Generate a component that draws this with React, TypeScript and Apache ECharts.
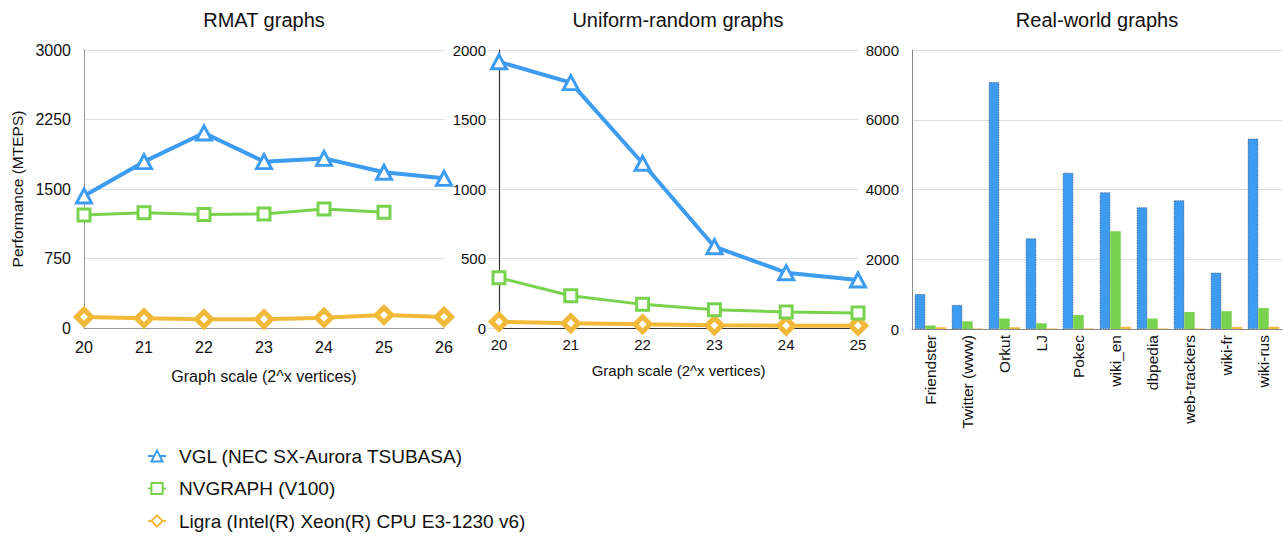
import React, { useEffect, useRef } from 'react';
import * as echarts from 'echarts';

const seriesNames = [
  'VGL (NEC SX-Aurora TSUBASA)',
  'NVGRAPH (V100)',
  'Ligra (Intel(R) Xeon(R) CPU E3-1230 v6)',
];
const panelTitles = ['RMAT graphs', 'Uniform-random graphs', 'Real-world graphs'];
const xAxisTitle = 'Graph scale (2^x vertices)';
const yAxisTitle = 'Performance (MTEPS)';

const rmatScales = ['20', '21', '22', '23', '24', '25', '26'];
const rmatVGL = [1425, 1795, 2105, 1795, 1830, 1680, 1615];
const rmatNV = [1220, 1245, 1225, 1230, 1285, 1250, null];
const rmatLigra = [120, 105, 95, 95, 110, 140, 120];

const uniScales = ['20', '21', '22', '23', '24', '25'];
const uniVGL = [1915, 1765, 1185, 585, 398, 345];
const uniNV = [362, 232, 170, 132, 115, 108];
const uniLigra = [45, 34, 27, 19, 17, 17];

const realGraphs = ['Friendster', 'Twitter (www)', 'Orkut', 'LJ', 'Pokec', 'wiki_en', 'dbpedia', 'web-trackers', 'wiki-fr', 'wiki-rus'];
const realVGL = [1000, 690, 7080, 2600, 4480, 3920, 3490, 3690, 1615, 5460];
const realNV = [100, 220, 300, 165, 400, 2800, 300, 490, 510, 600];
const realLigra = [50, 15, 50, 15, 15, 65, 15, 15, 60, 65];

const yMax = [3000, 2000, 8000];
const yStep = [750, 500, 2000];

const BLUE = '#3d9cf0';
const GREEN = '#78d24e';
const YELLOW = '#f1b93a';
const FONT = '"Liberation Sans", Arial, Helvetica, sans-serif';
const TXT = '#111';

const plain = (v: number) => String(v);

export default function App() {
  const ref = useRef<HTMLDivElement>(null);

  useEffect(() => {
    if (!ref.current) return;
    const chart = echarts.init(ref.current, undefined, { renderer: 'svg' });

    const grids = [
      { left: 84, top: 50, width: 360, height: 278 },
      { left: 499, top: 50, width: 359, height: 278 },
      { left: 912, top: 50, width: 370, height: 279 },
    ];

    const lineSeries = (name: string, data: any[], xi: number, kind: number) => {
      const color = [BLUE, GREEN, YELLOW][kind];
      const symbol = ['triangle', 'rect', 'diamond'][kind];
      const size = [[15, 14], 12, 15][kind];
      const bw = [3, 3, 5][kind];
      const lw = [4, 3, 4][kind];
      return {
        type: 'line',
        name,
        xAxisIndex: xi,
        yAxisIndex: xi,
        data,
        symbol,
        symbolSize: size,
        showAllSymbol: true,
        connectNulls: false,
        lineStyle: { color, width: lw },
        itemStyle: { color: '#fff', borderColor: color, borderWidth: bw },
        z: 3 - kind + 2,
      };
    };

    const barSeries = (name: string, data: number[], color: string, border: boolean) => ({
      type: 'bar',
      name,
      xAxisIndex: 2,
      yAxisIndex: 2,
      data,
      barGap: '0%',
      barCategoryGap: '15%',
      itemStyle: border
        ? { color, borderColor: 'rgba(25,60,105,0.75)', borderWidth: 0.8, borderType: [1.5, 1] }
        : { color },
    });

    const option: any = {
      animation: false,
      textStyle: { fontFamily: FONT, color: TXT },
      grid: grids,
      legend: {
        orient: 'vertical',
        left: 147,
        top: 445,
        padding: 0,
        itemWidth: 18,
        itemHeight: 14,
        itemGap: 10.5,
        selectedMode: false,
        data: seriesNames,
        textStyle: { fontSize: 19, lineHeight: 22, color: TXT, fontFamily: FONT, padding: [0, 0, 0, 8] },
      },
      graphic: [
        { type: 'text', x: 264, y: 20, style: { text: panelTitles[0], fontSize: 20, fontFamily: FONT, fill: TXT, align: 'center', verticalAlign: 'middle' } },
        { type: 'text', x: 678, y: 20, style: { text: panelTitles[1], fontSize: 20, fontFamily: FONT, fill: TXT, align: 'center', verticalAlign: 'middle' } },
        { type: 'text', x: 1097, y: 20, style: { text: panelTitles[2], fontSize: 20, fontFamily: FONT, fill: TXT, align: 'center', verticalAlign: 'middle' } },
      ],
      xAxis: [
        {
          gridIndex: 0,
          type: 'category',
          data: rmatScales,
          boundaryGap: false,
          axisLine: { lineStyle: { color: '#9a9a9a', width: 1 } },
          axisTick: { show: false },
          axisLabel: { fontSize: 16, color: TXT, margin: 11 },
          name: xAxisTitle,
          nameLocation: 'middle',
          nameGap: 40,
          nameTextStyle: { fontSize: 16, color: TXT },
          splitLine: { show: false },
        },
        {
          gridIndex: 1,
          type: 'category',
          data: uniScales,
          boundaryGap: false,
          axisLine: { lineStyle: { color: '#333', width: 1.2 } },
          axisTick: { show: false },
          axisLabel: { fontSize: 15, color: TXT, margin: 9 },
          name: xAxisTitle,
          nameLocation: 'middle',
          nameGap: 35,
          nameTextStyle: { fontSize: 15, color: TXT },
          splitLine: { show: false },
        },
        {
          gridIndex: 2,
          type: 'category',
          data: realGraphs,
          boundaryGap: true,
          axisLine: { lineStyle: { color: '#8a8a8a', width: 1 } },
          axisTick: { show: false },
          axisLabel: { fontSize: 15.5, color: TXT, margin: 6, rotate: 90, interval: 0 },
          splitLine: { show: false },
        },
      ],
      yAxis: [
        {
          gridIndex: 0,
          type: 'value',
          min: 0,
          max: yMax[0],
          interval: yStep[0],
          axisLine: { show: true, lineStyle: { color: '#9a9a9a', width: 1 } },
          axisTick: { show: false },
          axisLabel: { fontSize: 16, color: TXT, margin: 13, formatter: plain },
          splitLine: { lineStyle: { color: '#dedede', width: 1 } },
          name: yAxisTitle,
          nameLocation: 'middle',
          nameGap: 59,
          nameTextStyle: { fontSize: 15.5, color: TXT },
        },
        {
          gridIndex: 1,
          type: 'value',
          min: 0,
          max: yMax[1],
          interval: yStep[1],
          axisLine: { show: true, lineStyle: { color: '#333', width: 1.2 } },
          axisTick: { show: true, length: 11, lineStyle: { color: '#dedede', width: 1 } },
          axisLabel: { fontSize: 15, color: TXT, margin: 13, formatter: plain },
          splitLine: { lineStyle: { color: '#dedede', width: 1 } },
        },
        {
          gridIndex: 2,
          type: 'value',
          min: 0,
          max: yMax[2],
          interval: yStep[2],
          axisLine: { show: true, lineStyle: { color: '#8a8a8a', width: 1 } },
          axisTick: { show: false },
          axisLabel: { fontSize: 15, color: TXT, margin: 13, formatter: plain },
          splitLine: { lineStyle: { color: '#dedede', width: 1 } },
        },
      ],
      series: [
        lineSeries(seriesNames[0], rmatVGL, 0, 0),
        lineSeries(seriesNames[1], rmatNV, 0, 1),
        lineSeries(seriesNames[2], rmatLigra, 0, 2),
        lineSeries(seriesNames[0], uniVGL, 1, 0),
        lineSeries(seriesNames[1], uniNV, 1, 1),
        lineSeries(seriesNames[2], uniLigra, 1, 2),
        barSeries(seriesNames[0], realVGL, BLUE, true),
        barSeries(seriesNames[1], realNV, GREEN, false),
        barSeries(seriesNames[2], realLigra, YELLOW, false),
      ],
    };

    chart.setOption(option);
    return () => {
      chart.dispose();
    };
  }, []);

  return (
    <div
      ref={ref}
      style={{ position: 'absolute', left: 0, top: 0, width: 1283, height: 536, background: '#fff' }}
    />
  );
}
